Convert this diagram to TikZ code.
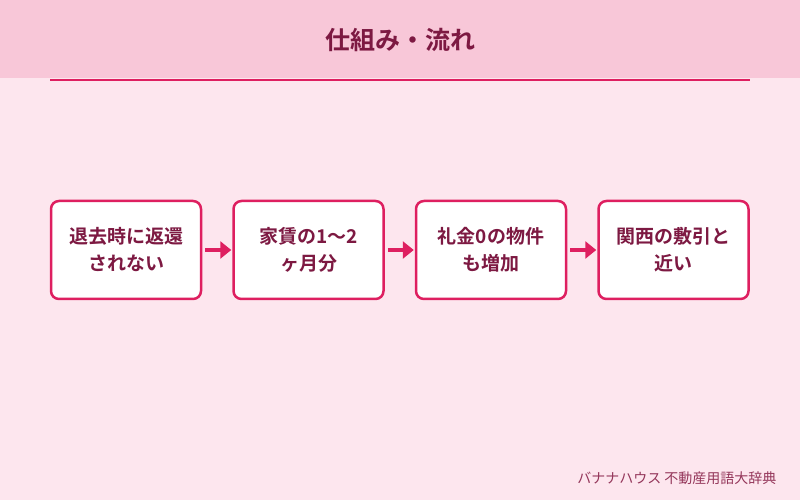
\documentclass[tikz,border=0pt]{standalone}
\usepackage{fontspec}
\usepackage{tikz}
\usetikzlibrary{arrows.meta,positioning}
\newfontfamily\jpfont{Noto Sans CJK JP}
\newfontfamily\jpbold{Noto Sans CJK JP Bold}
\definecolor{headbg}{HTML}{F8C7D8}
\definecolor{softbg}{HTML}{FDE6EE}
\definecolor{accent}{HTML}{DE1F60}
\definecolor{maroon}{HTML}{7D1942}
\definecolor{footx}{HTML}{94365A}
\tikzset{
  ar/.style={-{Triangle[length=11pt,width=17pt]},line width=3.5pt,accent},
  box/.style={draw=accent,line width=2.5pt,rounded corners=8pt,fill=white,align=center,
    minimum width=150pt,minimum height=98pt,text=maroon,
    font=\jpbold\fontsize{19}{27}\selectfont}
}
\begin{document}
\begin{tikzpicture}[x=1pt,y=1pt]
\useasboundingbox (0,0) rectangle (800,500);
\fill[softbg] (0,0) rectangle (800,500);
\fill[headbg] (0,500) rectangle (800,422);
\node[text=maroon,font=\jpbold\fontsize{25}{28}\selectfont] (title) at (400,460) {仕組み・流れ};
\draw[accent,line width=2pt] (50,419.5) -- (750,419.5);
% steps
\node[box] (b1) at (126,250) {退去時に返還\\されない};
\node[box,right=30pt of b1] (b2) {家賃の1〜2\\ヶ月分};
\node[box,right=30pt of b2] (b3) {礼金0の物件\\も増加};
\node[box,right=30pt of b3] (b4) {関西の敷引と\\近い};
\foreach \a/\b in {b1/b2,b2/b3,b3/b4}
  \draw[ar,shorten <=3pt,shorten >=1pt] (\a) -- (\b);
\node[anchor=east,text=footx,font=\jpfont\fontsize{14}{16}\selectfont] (src) at (780,22) {バナナハウス 不動産用語大辞典};
\end{tikzpicture}
\end{document}
